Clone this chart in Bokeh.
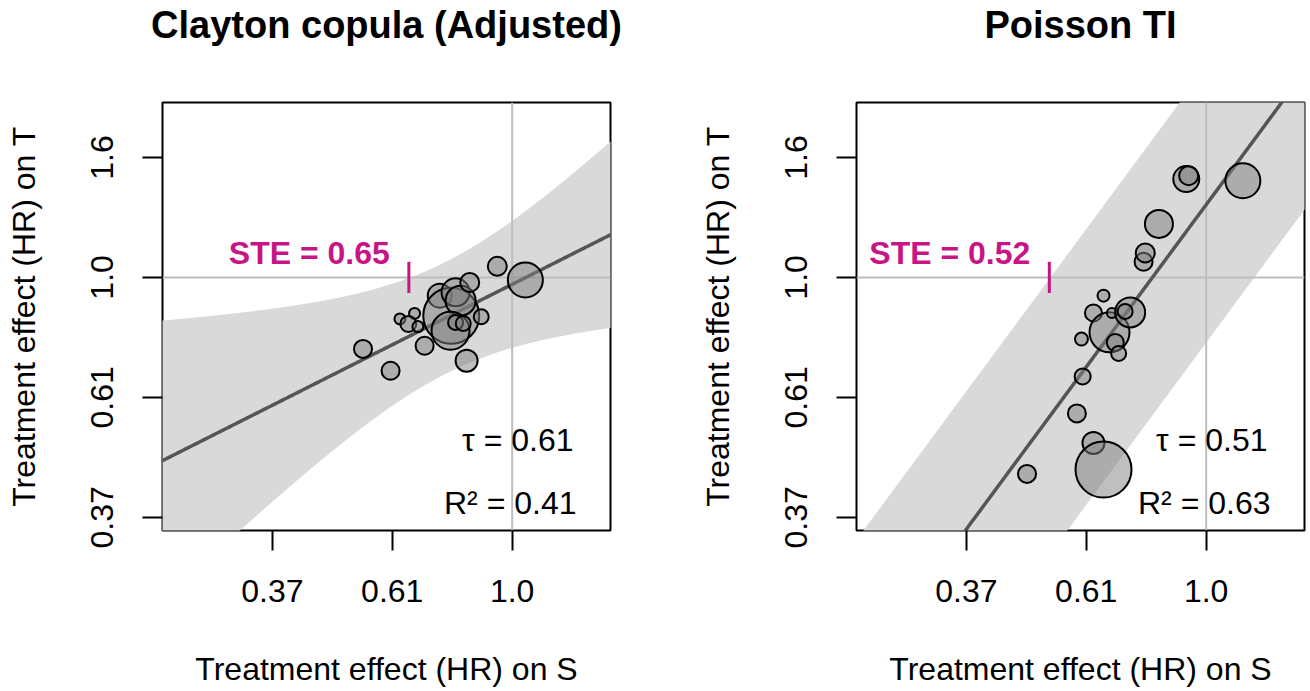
import numpy as np
from bokeh.plotting import figure
from bokeh.models import Range1d, FixedTicker, Label, LinearAxis
from bokeh.layouts import row
from bokeh.embed import file_html
from bokeh.resources import INLINE

# ---------------- data (log hazard-ratio scale) ----------------
tick_logs = [-1.0, -0.5, 0.0, 0.5]
tick_labels = ["0.37", "0.61", "1.0", "1.6"]

titles = ["Clayton copula (Adjusted)", "Poisson TI"]
x_label = "Treatment effect (HR) on S"
y_label = "Treatment effect (HR) on T"

# Clayton copula (Adjusted)
clay_x = [-0.622, -0.507, -0.468, -0.407, -0.433, -0.393, -0.365, -0.302, -0.254,
          -0.236, -0.215, -0.177, -0.129, -0.257, -0.236, -0.204, -0.190, -0.062, 0.055]
clay_y = [-0.298, -0.389, -0.173, -0.150, -0.194, -0.205, -0.285, -0.076, -0.160,
          -0.062, -0.097, -0.021, -0.164, -0.222, -0.188, -0.192, -0.347, 0.046, -0.011]
clay_n = [324, 324, 121, 121, 256, 121, 324, 576, 3136,
          784, 900, 361, 225, 1444, 225, 225, 484, 361, 1225]
clay_intercept = -0.029
clay_slope = 0.504
clay_pred_var = 0.0545      # residual prediction variance
clay_pred_curv = 0.205      # slope-uncertainty term
clay_pred_centre = -0.276
clay_ste = 0.65
clay_tau = "0.61"
clay_r2 = "0.41"

# Poisson TI
pois_x = [-0.747, -0.539, -0.470, -0.428, -0.515, -0.520, -0.470, -0.428, -0.403, -0.379,
          -0.365, -0.393, -0.317, -0.338, -0.261, -0.254, -0.197, -0.083, -0.073, 0.153]
pois_y = [-0.819, -0.567, -0.690, -0.801, -0.413, -0.257, -0.148, -0.076, -0.229, -0.271,
          -0.317, -0.148, -0.146, -0.142, 0.065, 0.102, 0.223, 0.410, 0.424, 0.403]
pois_n = [324, 324, 484, 3136, 256, 169, 289, 144, 1600, 289,
          225, 100, 900, 225, 324, 361, 784, 676, 361, 1225]
pois_intercept = 0.303
pois_slope = 1.3525
pois_pred_var = 0.3306
pois_pred_curv = 0.0
pois_pred_centre = -0.3
pois_ste = 0.52
pois_tau = "0.51"
pois_r2 = "0.63"

YLIM = (-1.055, 0.729)
XLIM = (-1.458, 0.41)

FONT = "Liberation Sans"
FS = "32px"
MAG = "#C71585"


def panel(title, xs, ys, ns, a, b, pv, pc, pcen, ste, tau, r2, width, mbl, mbr):
    xlim = XLIM
    p = figure(width=width, height=691, output_backend="svg", toolbar_location=None,
               x_range=Range1d(*xlim), y_range=Range1d(*YLIM),
               min_border_left=mbl, min_border_right=mbr,
               min_border_top=102, min_border_bottom=161)
    p.grid.visible = False
    p.outline_line_color = "black"
    p.outline_line_width = 2
    p.background_fill_color = "white"
    p.border_fill_color = "white"

    for ax in (p.xaxis[0], p.yaxis[0]):
        ax.ticker = FixedTicker(ticks=tick_logs)
        ax.major_label_overrides = {t: l for t, l in zip(tick_logs, tick_labels)}
        ax.major_tick_out = 20
        ax.major_tick_in = 0
        ax.minor_tick_out = 0
        ax.minor_tick_in = 0
        ax.major_tick_line_width = 2
        ax.major_tick_line_color = "black"
        ax.axis_line_color = None
        ax.major_label_text_font = FONT
        ax.major_label_text_font_size = FS
        ax.major_label_text_color = "black"
        ax.axis_label_text_font = FONT
        ax.axis_label_text_font_size = FS
        ax.axis_label_text_font_style = "normal"
        ax.axis_label_text_color = "black"
    p.xaxis.axis_label = x_label
    p.yaxis.axis_label = y_label
    p.xaxis.major_label_standoff = 29
    p.xaxis.axis_label_standoff = 46
    p.yaxis.major_label_standoff = 29
    p.yaxis.major_label_orientation = "vertical"
    p.yaxis.axis_label_standoff = 47

    # panel title, drawn as the label of a tick-less top axis
    tax = LinearAxis(ticker=FixedTicker(ticks=[]), axis_label=title)
    tax.major_tick_out = 0
    tax.major_tick_in = 0
    tax.minor_tick_out = 0
    tax.minor_tick_in = 0
    tax.axis_line_color = None
    tax.major_label_standoff = 0
    tax.axis_label_standoff = 57
    tax.axis_label_text_font = FONT
    tax.axis_label_text_font_size = "38px"
    tax.axis_label_text_font_style = "bold"
    tax.axis_label_text_color = "black"
    p.add_layout(tax, "above")

    # prediction band
    gx = np.linspace(xlim[0] - 0.05, xlim[1] + 0.05, 300)
    centre = a + b * gx
    hw = np.sqrt(pv + pc * (gx - pcen) ** 2)
    p.patch(np.concatenate([gx, gx[::-1]]),
            np.concatenate([centre + hw, (centre - hw)[::-1]]),
            fill_color="#D9D9D9", line_color=None)

    # reference lines at HR = 1
    p.segment(x0=[0.0, xlim[0]], y0=[YLIM[0], 0.0], x1=[0.0, xlim[1]], y1=[YLIM[1], 0.0],
              line_color="#BEBEBE", line_width=2)

    # regression line
    p.line(gx, centre, line_color="#555555", line_width=3.5)

    # trials
    p.scatter(xs, ys, size=np.sqrt(np.array(ns, dtype=float)),
              fill_color="#808080", fill_alpha=0.5, line_color="black", line_width=2)

    # STE
    lste = float(np.log(ste))
    p.segment(x0=[lste], y0=[-0.065], x1=[lste], y1=[0.065], line_color=MAG, line_width=3)
    p.add_layout(Label(x=lste, y=0.0, x_offset=-19, y_offset=24,
                       text=f"STE = {ste:.2f}", text_font=FONT, text_font_size=FS,
                       text_font_style="bold", text_color=MAG, text_align="right",
                       text_baseline="middle"))

    # tau and R2
    p.add_layout(Label(x=xlim[1], y=-0.676, x_offset=-37, text="\u03c4 = " + tau,
                       text_font=FONT, text_font_size=FS, text_align="right",
                       text_baseline="middle", text_color="black"))
    p.add_layout(Label(x=xlim[1], y=-0.94, x_offset=-34, text="R\u00b2 = " + r2,
                       text_font=FONT, text_font_size=FS, text_align="right",
                       text_baseline="middle", text_color="black"))
    return p


p1 = panel(titles[0], clay_x, clay_y, clay_n, clay_intercept, clay_slope, clay_pred_var,
           clay_pred_curv, clay_pred_centre, clay_ste, clay_tau, clay_r2, 666, 162, 56)
p2 = panel(titles[1], pois_x, pois_y, pois_n, pois_intercept, pois_slope, pois_pred_var,
           pois_pred_curv, pois_pred_centre, pois_ste, pois_tau, pois_r2, 644, 190, 6)

layout = row(p1, p2)
open("out.html", "w").write(file_html(layout, INLINE))
